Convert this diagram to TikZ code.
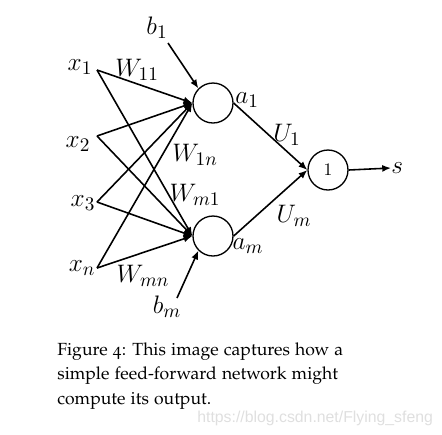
\documentclass[tikz,border=0pt]{standalone}
\usepackage[T1]{fontenc}
\usepackage{fontspec}
\newfontfamily\markfont{Liberation Sans}
\usetikzlibrary{arrows.meta}

\begin{document}
\begin{tikzpicture}[x=0.02cm, y=-0.02cm,
    neuron/.style={circle, draw, line width=0.75pt, minimum size=0.8cm, inner sep=0pt},
    lbl/.style={font=\fontsize{15}{18}\selectfont, inner sep=0pt},
    wire/.style={line width=0.9pt, -{Latex[length=5pt,width=4pt]}}]
      \useasboundingbox (0,0) rectangle (442,434);
      % inputs
      \coordinate (i1) at (97,70);
      \coordinate (i2) at (97,136);
      \coordinate (i3) at (97,202);
      \coordinate (in) at (97,268);
      \node[lbl] (x1) at (80,67) {$x_1$};
      \node[lbl] (x2) at (78,144) {$x_2$};
      \node[lbl] (x3) at (83,203) {$x_3$};
      \node[lbl] (xn) at (82,268) {$x_n$};
      % hidden and output units
      \node[neuron] (h1) at (213,103) {};
      \node[neuron] (hm) at (213,236) {};
      \node[neuron, font=\fontsize{10}{12}\selectfont] (out) at (328,170) {$1$};
      \node[lbl, anchor=west] (s) at (391,168) {$s$};
      % biases
      \node[lbl] (b1) at (157,28) {$b_1$};
      \node[lbl] (bm) at (167,307) {$b_m$};
      \coordinate (b1t) at (168,43);
      \coordinate (bmt) at (177,298);
      \foreach \i in {i1,i2,i3,in} {
        \draw[wire] (\i) -- (h1.west);
        \draw[wire] (\i) -- (hm.west);
      }
      \draw[wire] (b1t) -- (h1.135);
      \draw[wire] (bmt) -- (hm.-135);
      \draw[wire] (h1.east) -- (out.west);
      \draw[wire] (hm.east) -- (out.west);
      \draw[wire] (out.east) -- (s.west);
      % weights
      \node[lbl] (w11) at (137,70) {$W_{11}$};
      \node[lbl] (w1n) at (195,155) {$W_{1n}$};
      \node[lbl] (wm1) at (195,195) {$W_{m1}$};
      \node[lbl] (wmn) at (143,276) {$W_{mn}$};
      \node[lbl] (a1) at (247,100) {$a_1$};
      \node[lbl] (am) at (248,246) {$a_m$};
      \node[lbl] (u1) at (287,135) {$U_1$};
      \node[lbl] (um) at (294,216) {$U_m$};
      % caption (base = last line)
      \node[anchor=base west, align=left, inner sep=0pt,
        font=\fontencoding{T1}\fontfamily{pplj}\fontsize{10}{13.9}\selectfont]
        (cap) at (57,404) {Figure 4: This image captures how a\\
        simple feed-forward network might\\ compute its output.};
      \node[anchor=base west, inner sep=0pt, text=gray!25,
        font=\markfont\fontsize{9}{10}\selectfont] (mark) at (197,422)
        {https://blog.csdn.net/Flying\_sfeng};
\end{tikzpicture}
\end{document}
